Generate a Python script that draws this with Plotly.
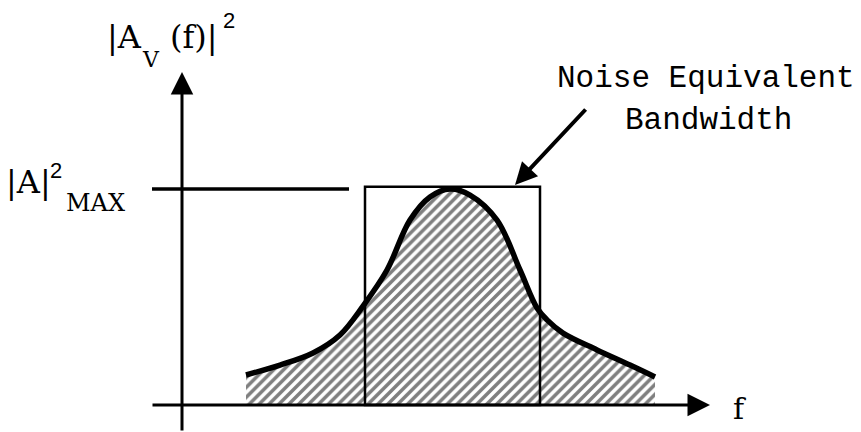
import plotly.graph_objects as go

# Frequency response |A_V(f)|^2 (normalised so that the peak is 1)
freq = [0.64, 0.98, 1.31, 1.58, 1.81, 2.05, 2.28, 2.48, 2.68, 2.88,
        3.15, 3.38, 3.55, 3.65, 3.81, 4.15, 4.48, 4.73]
gain = [0.139, 0.185, 0.241, 0.324, 0.458, 0.625, 0.856, 0.963, 1.0, 0.972,
        0.856, 0.625, 0.449, 0.394, 0.333, 0.255, 0.185, 0.130]

# Equivalent rectangular band edges
bw_low = 1.83
bw_high = 3.58
peak = max(gain)

X_RANGE = [-1.82, 6.79]
Y_RANGE = [-0.125, 1.875]

SERIF = "DejaVu Serif"
SANS = "Liberation Sans"
MONO = "Liberation Mono"

fig = go.Figure()

# hatched area under the response curve
fig.add_trace(go.Scatter(
    x=freq, y=gain, mode="lines",
    line=dict(color="black", width=5.5, shape="spline", smoothing=1.0),
    fill="tozeroy", fillcolor="white",
    fillpattern=dict(shape="/", size=7, solidity=0.5,
                     fgcolor="black", bgcolor="white"),
    hoverinfo="skip", showlegend=False,
))

# noise-equivalent bandwidth rectangle
fig.add_shape(type="rect", xref="x", yref="y",
              x0=bw_low, x1=bw_high, y0=0, y1=peak * 1.01,
              line=dict(color="black", width=2.5), fillcolor="rgba(0,0,0,0)")

# |A|^2 max reference line
fig.add_shape(type="line", xref="x", yref="y",
              x0=-0.30, x1=1.67, y0=peak, y1=peak,
              line=dict(color="black", width=3.5))

annotations = []


def arrow(x, y, ax, ay, width, size):
    annotations.append(dict(
        x=x, y=y, ax=ax, ay=ay, xref="x", yref="y", axref="x", ayref="y",
        text="", showarrow=True, arrowhead=2, arrowsize=size,
        arrowwidth=width, arrowcolor="black", standoff=0,
    ))


# axes with arrowheads
arrow(0, 1.542, 0, Y_RANGE[0], 3, 1.5)
arrow(5.28, 0, -0.31, 0, 3, 1.5)
# pointer to the rectangle
arrow(3.33, 1.019, 4.05, 1.375, 4, 1.1)


def label(text, px, py, font, size):
    annotations.append(dict(
        x=(px - 182) / 100, y=(405 - py) / 216, xref="x", yref="y",
        text=text, showarrow=False, xanchor="center", yanchor="middle",
        font=dict(family=font, size=size, color="black"),
    ))


label("|A", 124, 37, SERIF, 32)
label("V", 151, 59, SERIF, 22)
label("(f)|", 194, 37, SERIF, 32)
label("2", 229, 20, SANS, 22)

label("|A|", 28, 182, SERIF, 32)
label("2", 56, 170, SANS, 22)
label("MAX", 95, 203, SERIF, 24)

label("f", 739, 408, SERIF, 30)

label("Noise Equivalent", 706, 78, MONO, 31)
label("Bandwidth", 708, 120, MONO, 31)

fig.update_layout(
    width=861, height=432,
    margin=dict(l=0, r=0, t=0, b=0),
    paper_bgcolor="white", plot_bgcolor="white",
    xaxis=dict(range=X_RANGE, visible=False, fixedrange=True),
    yaxis=dict(range=Y_RANGE, visible=False, fixedrange=True),
    annotations=annotations,
    showlegend=False,
)

fig.write_html("out.html", config={"displayModeBar": False})
